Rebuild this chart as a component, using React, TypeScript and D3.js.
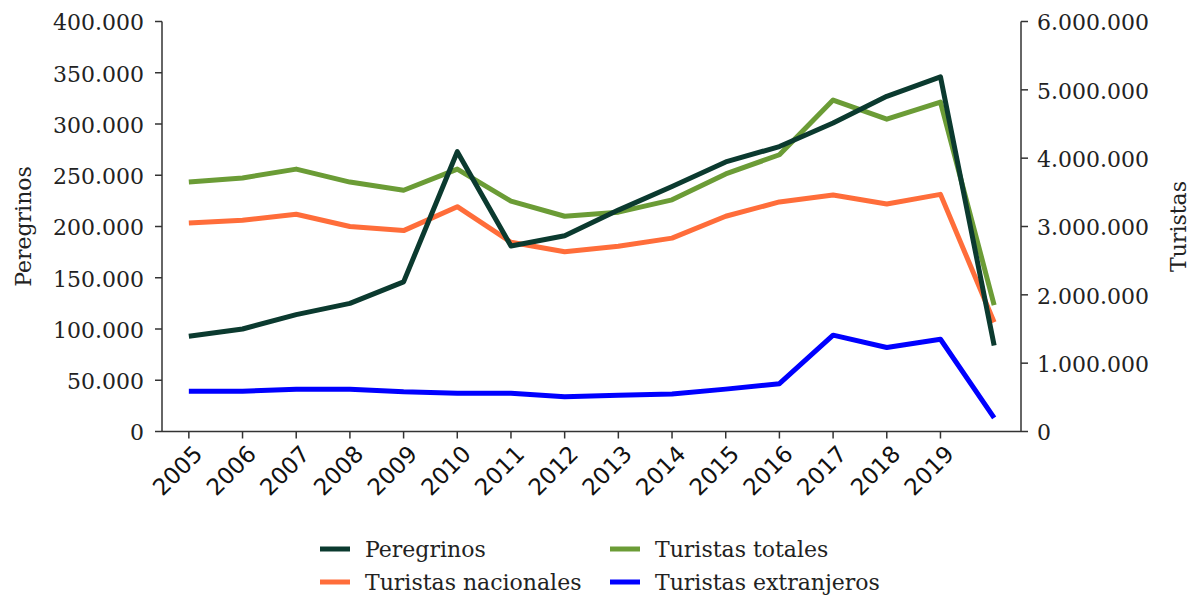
import React from 'react';
import * as d3 from 'd3';

const years = ['2005', '2006', '2007', '2008', '2009', '2010', '2011', '2012', '2013', '2014', '2015', '2016', '2017', '2018', '2019', '2020'];
// el último punto (2020) no lleva etiqueta en el eje
const yearLabels = ['2005', '2006', '2007', '2008', '2009', '2010', '2011', '2012', '2013', '2014', '2015', '2016', '2017', '2018', '2019', ''];

// eje izquierdo
const peregrinos = [93000, 100000, 114000, 125000, 146000, 273000, 181000, 191000, 216000, 239000, 263000, 278000, 301000, 327000, 346000, 84000];
// eje derecho
const turistasTotales = [3650000, 3710000, 3840000, 3650000, 3530000, 3840000, 3370000, 3150000, 3210000, 3390000, 3770000, 4050000, 4850000, 4570000, 4820000, 1850000];
const turistasNacionales = [3050000, 3090000, 3180000, 3000000, 2940000, 3290000, 2770000, 2630000, 2710000, 2830000, 3150000, 3360000, 3460000, 3330000, 3470000, 1600000];
const turistasExtranjeros = [590000, 590000, 620000, 620000, 580000, 560000, 560000, 510000, 530000, 550000, 620000, 700000, 1410000, 1230000, 1350000, 200000];

const leftTicks = [0, 50000, 100000, 150000, 200000, 250000, 300000, 350000, 400000];
const rightTicks = [0, 1000000, 2000000, 3000000, 4000000, 5000000, 6000000];

const W = 1195;
const H = 599;
const left = 162;
const right = 1021;
const top = 21.5;
const bottom = 431.5;

const locale = d3.formatLocale({ decimal: ',', thousands: '.', grouping: [3], currency: ['', ''] });
const fmt = locale.format(',d');

const serif = "'DejaVu Serif', serif";
const sans = "'DejaVu Sans', sans-serif";
const axisColor = '#333';

export default function App() {
  const x = d3.scalePoint<string>().domain(years).range([left, right]).padding(0.5);
  const yL = d3.scaleLinear().domain([0, 400000]).range([bottom, top]);
  const yR = d3.scaleLinear().domain([0, 6000000]).range([bottom, top]);

  const lineL = d3.line<number>().x((_, i) => x(years[i])!).y(d => yL(d));
  const lineR = d3.line<number>().x((_, i) => x(years[i])!).y(d => yR(d));

  const series = [
    { name: 'Turistas nacionales', color: '#ff6d3a', path: lineR(turistasNacionales) },
    { name: 'Turistas totales', color: '#6b9c36', path: lineR(turistasTotales) },
    { name: 'Turistas extranjeros', color: '#0000ff', path: lineR(turistasExtranjeros) },
    { name: 'Peregrinos', color: '#0b3a2f', path: lineL(peregrinos) },
  ];

  const legend = [
    { name: 'Peregrinos', color: '#0b3a2f', lx: 320, ly: 549 },
    { name: 'Turistas totales', color: '#6b9c36', lx: 610, ly: 549 },
    { name: 'Turistas nacionales', color: '#ff6d3a', lx: 320, ly: 582 },
    { name: 'Turistas extranjeros', color: '#0000ff', lx: 610, ly: 582 },
  ];

  return (
    <svg width={W} height={H} style={{ position: 'absolute', left: 0, top: 0, background: '#fff' }}>
      {series.map(s => (
        <path key={s.name} d={s.path || ''} fill="none" stroke={s.color} strokeWidth={5} strokeLinejoin="round" />
      ))}

      {/* eje izquierdo */}
      <line x1={left} x2={left} y1={top} y2={bottom} stroke={axisColor} strokeWidth={1.5} />
      {leftTicks.map(t => (
        <g key={t} transform={`translate(${left},${yL(t)})`}>
          <line x1={-7} x2={0} stroke={axisColor} strokeWidth={1.5} />
          <text x={-18} dy="0.4em" textAnchor="end" fontFamily={serif} fontSize={22} fill="#222">{fmt(t)}</text>
        </g>
      ))}
      <text transform={`translate(31,${(top + bottom) / 2}) rotate(-90)`} textAnchor="middle" fontFamily={serif} fontSize={22} fill="#222">Peregrinos</text>

      {/* eje derecho */}
      <line x1={right} x2={right} y1={top} y2={bottom} stroke={axisColor} strokeWidth={1.5} />
      {rightTicks.map(t => (
        <g key={t} transform={`translate(${right},${yR(t)})`}>
          <line x1={0} x2={7} stroke={axisColor} strokeWidth={1.5} />
          <text x={16} dy="0.4em" textAnchor="start" fontFamily={serif} fontSize={22} fill="#222">{fmt(t)}</text>
        </g>
      ))}
      <text transform={`translate(1186,${(top + bottom) / 2}) rotate(-90)`} textAnchor="middle" fontFamily={serif} fontSize={22} fill="#222">Turistas</text>

      {/* eje x */}
      <line x1={left} x2={right} y1={bottom} y2={bottom} stroke={axisColor} strokeWidth={1.5} />
      {years.map((yr, i) => (
        <g key={yr} transform={`translate(${x(yr)},${bottom})`}>
          {yearLabels[i] && <line y1={0} y2={7} stroke={axisColor} strokeWidth={1.5} />}
          {yearLabels[i] && (
            <text transform="translate(15,24) rotate(-45)" textAnchor="end" fontFamily={sans} fontSize={23} fill="#111">{yearLabels[i]}</text>
          )}
        </g>
      ))}

      {/* leyenda */}
      {legend.map(l => (
        <g key={l.name}>
          <line x1={l.lx} x2={l.lx + 30} y1={l.ly} y2={l.ly} stroke={l.color} strokeWidth={5} />
          <text x={l.lx + 45} y={l.ly} dy="0.35em" fontFamily={serif} fontSize={22} fill="#222">{l.name}</text>
        </g>
      ))}
    </svg>
  );
}
